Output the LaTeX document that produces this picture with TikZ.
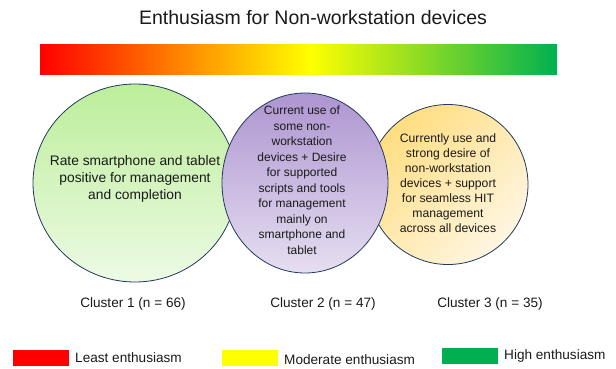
\documentclass[tikz,border=0pt]{standalone}
\usepackage{fontspec}
\setmainfont{Liberation Sans}
\usetikzlibrary{shapes.geometric,calc}
\definecolor{cred}{HTML}{FF0000}
\definecolor{cyellow}{HTML}{FFFF00}
\definecolor{cgreen}{HTML}{00B050}
\definecolor{outline}{HTML}{1F3A5C}
\definecolor{txt}{HTML}{1A1A1A}
\definecolor{gtop}{HTML}{BCEE9A}
\definecolor{gbot}{HTML}{EDFAE4}
\definecolor{ptop}{HTML}{AD95D0}
\definecolor{pbot}{HTML}{E6DEF1}
\definecolor{ytop}{HTML}{FFDD80}
\definecolor{ybot}{HTML}{FFF6E2}
\tikzset{
  blob/.style={ellipse, draw=outline, line width=0.8pt, inner sep=0pt},
  circtext/.style={align=center, text=txt, inner sep=0pt},
  clabel/.style={text=txt, font=\fontsize{13.6}{16}\selectfont, inner sep=0pt},
  legbox/.style={minimum width=56pt, minimum height=16pt, inner sep=0pt, draw=none},
  legtext/.style={anchor=west, text=txt, font=\fontsize{13.6}{16}\selectfont, inner sep=0pt}
}
\begin{document}
\begin{tikzpicture}[x=1pt,y=-1pt]
\useasboundingbox (0,0) rectangle (616,369);
% title
\node[text=txt, font=\fontsize{19.5}{22}\selectfont, inner sep=0pt] (title) at (313,18) {Enthusiasm for Non-workstation devices};
% gradient bar
\path[left color=cred, right color=cyellow] (40,45) rectangle (310,75);
\path[left color=cyellow, right color=cgreen] (309.5,45) rectangle (557,75);
% circles
\node[blob, minimum width=204pt, minimum height=198pt, top color=gtop, bottom color=gbot] (c1) at (135,183) {};
\node[blob, minimum width=160pt, minimum height=160pt, top color=ytop, bottom color=ybot, shading angle=45] (c3) at (448,184.5) {};
\node[blob, minimum width=166pt, minimum height=180pt, top color=ptop, bottom color=pbot] (c2) at (305,183) {};
% circle texts
\node[circtext, font=\fontsize{13.8}{17}\selectfont] (t1) at ($(c1.center)+(0,-4)$) {Rate smartphone and tablet\\positive for management\\and completion};
\node[circtext, font=\fontsize{12}{15.5}\selectfont] (t2) at ($(c2.center)+(-3,-3)$) {Current use of\\some non-\\workstation\\devices + Desire\\for supported\\scripts and tools\\for management\\mainly on\\smartphone and\\tablet};
\node[circtext, font=\fontsize{12.2}{15}\selectfont] (t3) at ($(c3.center)+(0,-1.5)$) {Currently use and\\strong desire of\\non-workstation\\devices + support\\for seamless HIT\\management\\across all devices};
% cluster labels
\node[clabel] (l1) at (133,304) {Cluster 1 (n = 66)};
\node[clabel] (l2) at (323,304) {Cluster 2 (n = 47)};
\node[clabel] (l3) at (490,304) {Cluster 3 (n = 35)};
% legend
\node[legbox, fill=cred] (lr) at (40.5,358) {};
\node[legtext] (lrt) at (75,358) {Least enthusiasm};
\node[legbox, fill=cyellow] (ly) at (250,358) {};
\node[legtext] (lyt) at (284,360) {Moderate enthusiasm};
\node[legbox, fill=cgreen] (lg) at (469.5,356) {};
\node[legtext] (lgt) at (504,356) {High enthusiasm};
\end{tikzpicture}
\end{document}
